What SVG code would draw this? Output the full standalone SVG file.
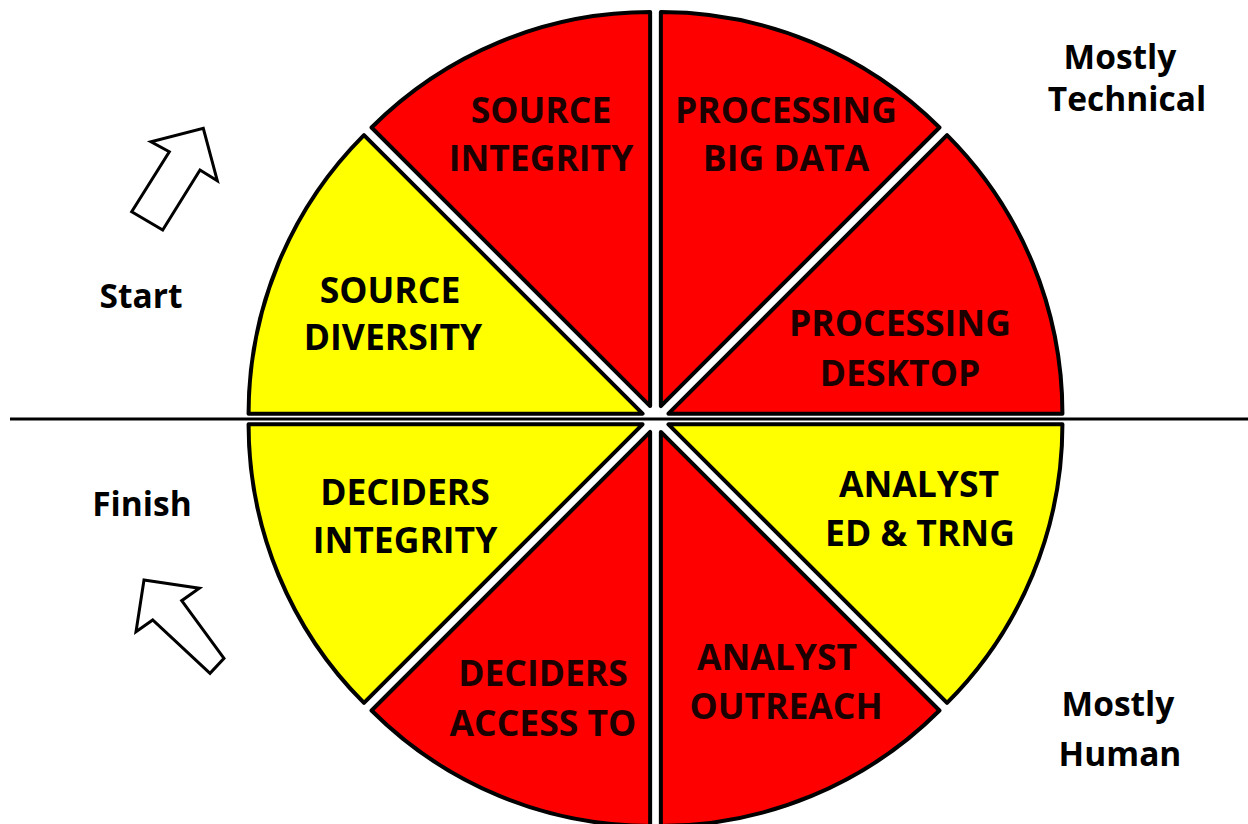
<svg xmlns="http://www.w3.org/2000/svg" width="1248" height="824" viewBox="0 0 1248 824">
<style>
.w{stroke:#000;stroke-width:4;stroke-linejoin:round}
.r{fill:#ff0000}
.y{fill:#ffff00}
.t{font-family:"Open Sans","Liberation Sans",sans-serif;font-weight:bold;font-size:35.5px;text-anchor:middle;fill:#000}
.tr{fill:#1c0000}
.o{font-family:"Open Sans","Liberation Sans",sans-serif;font-weight:bold;font-size:33.5px;text-anchor:middle;fill:#000}
.a{fill:#fff;stroke:#000;stroke-width:3;stroke-linejoin:miter}
</style>
<rect width="1248" height="824" fill="#fff"/>
<g id="connectors">
<line x1="10" y1="419" x2="1248" y2="419" stroke="#000" stroke-width="3"/>
</g>
<g id="processing-desktop">
<path class="w r" d="M668.43 413.64 L947.03 135.04 A394 394 0 0 1 1062.43 413.64 Z"/>
<text class="t tr" x="900" y="336">PROCESSING</text>
<text class="t tr" x="900" y="386">DESKTOP</text>
</g>
<g id="processing-big-data">
<path class="w r" d="M660.86 406.07 L660.86 12.07 A394 394 0 0 1 939.46 127.47 Z"/>
<text class="t tr" x="786" y="123">PROCESSING</text>
<text class="t tr" x="786" y="171">BIG DATA</text>
</g>
<g id="source-integrity">
<path class="w r" d="M650.14 406.07 L371.54 127.47 A394 394 0 0 1 650.14 12.07 Z"/>
<text class="t tr" x="541" y="123">SOURCE</text>
<text class="t tr" x="541" y="171">INTEGRITY</text>
</g>
<g id="source-diversity">
<path class="w y" d="M642.57 413.64 L248.57 413.64 A394 394 0 0 1 363.97 135.04 Z"/>
<text class="t" x="390" y="303">SOURCE</text>
<text class="t" x="393" y="350">DIVERSITY</text>
</g>
<g id="deciders-integrity">
<path class="w y" d="M642.57 424.36 L363.97 702.96 A394 394 0 0 1 248.57 424.36 Z"/>
<text class="t" x="405" y="505">DECIDERS</text>
<text class="t" x="405" y="553">INTEGRITY</text>
</g>
<g id="deciders-access-to">
<path class="w r" d="M650.14 431.93 L650.14 825.93 A394 394 0 0 1 371.54 710.53 Z"/>
<text class="t tr" x="543" y="686">DECIDERS</text>
<text class="t tr" x="543" y="736">ACCESS TO</text>
</g>
<g id="analyst-outreach">
<path class="w r" d="M660.86 431.93 L939.46 710.53 A394 394 0 0 1 660.86 825.93 Z"/>
<text class="t tr" x="777" y="670">ANALYST</text>
<text class="t tr" x="786" y="719">OUTREACH</text>
</g>
<g id="analyst-ed-trng">
<path class="w y" d="M668.43 424.36 L1062.43 424.36 A394 394 0 0 1 947.03 702.96 Z"/>
<text class="t" x="919" y="497">ANALYST</text>
<text class="t" x="920" y="546">ED &amp; TRNG</text>
</g>
<g id="mostly-technical">
<text class="o" x="1120" y="69">Mostly</text>
<text class="o" x="1127" y="111">Technical</text>
</g>
<g id="start">
<text class="o" x="141" y="308">Start</text>
<path class="a" d="M131.7 211.7 L162.7 230 L200 170 L217.3 180.7 L203.3 128.3 L151 141.7 L169.3 151.7 Z"/>
</g>
<g id="finish">
<text class="o" x="142" y="516">Finish</text>
<path class="a" d="M144 580 L199.3 588.3 L181.7 600.7 L224 658.3 L210 673.3 L152.7 620 L136 631.7 Z"/>
</g>
<g id="mostly-human">
<text class="o" x="1118" y="716">Mostly</text>
<text class="o" x="1120" y="766">Human</text>
</g>
</svg>
